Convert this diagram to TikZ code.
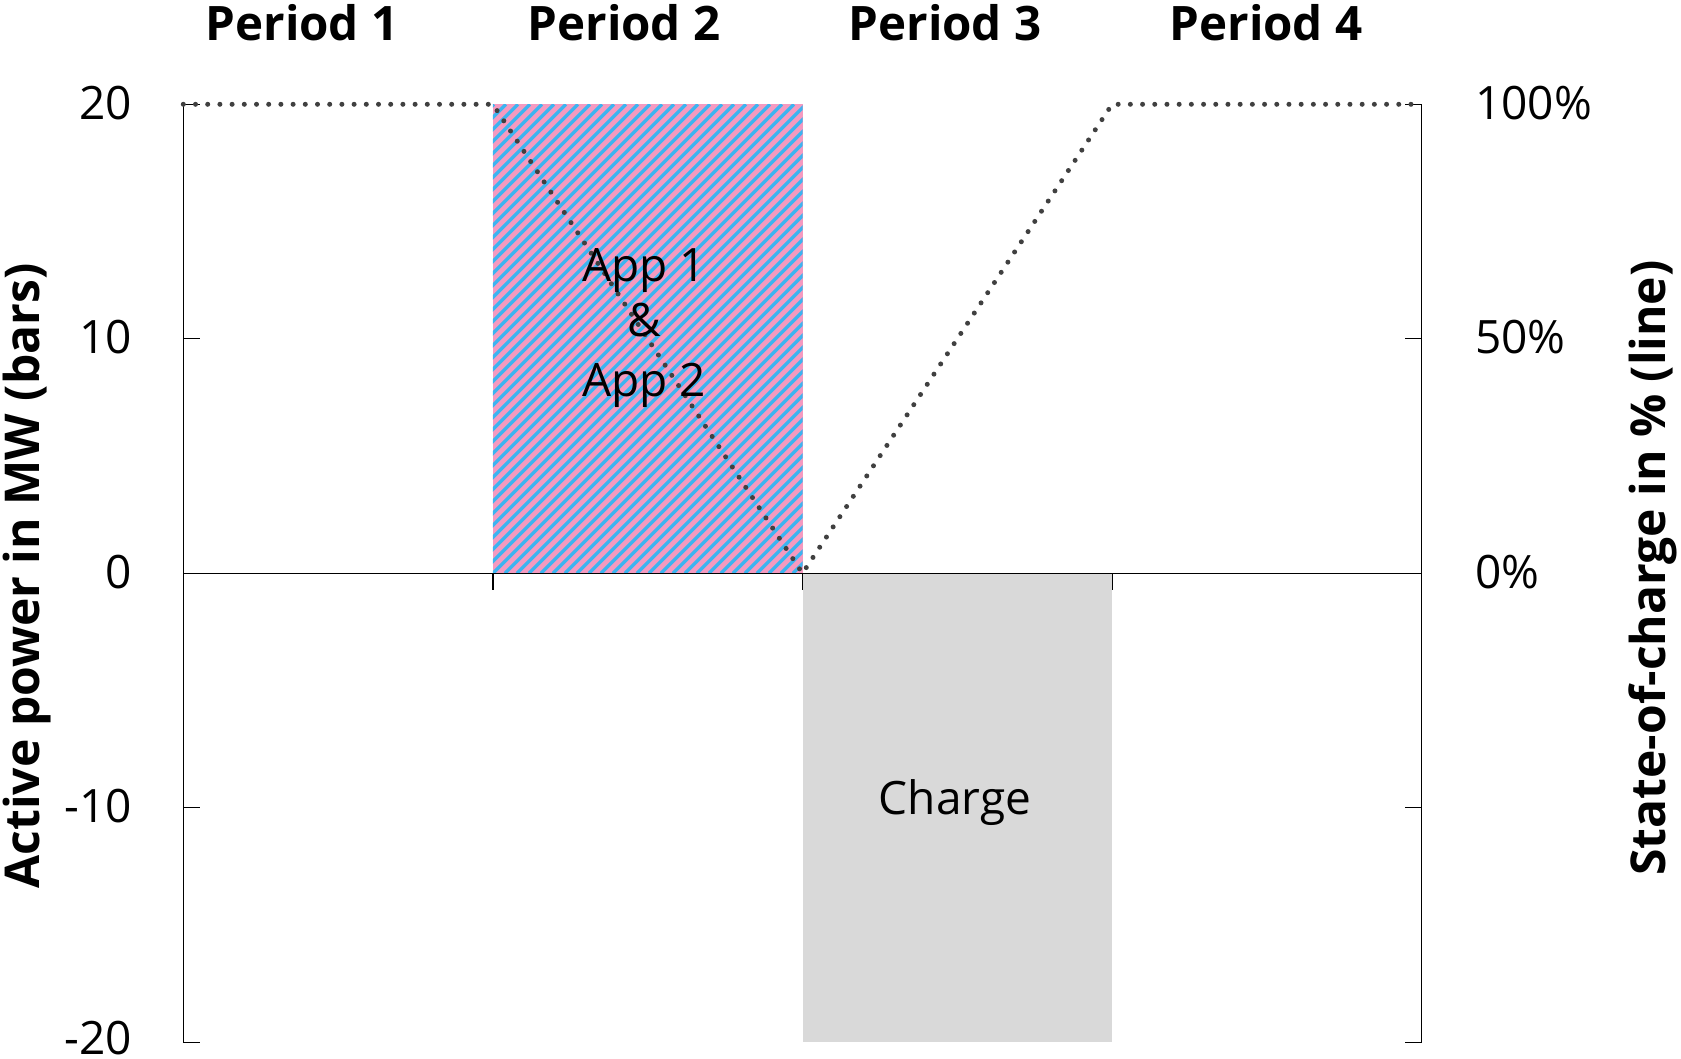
\documentclass[tikz,border=0pt]{standalone}
\usepackage{fontspec}
\setmainfont{Open Sans}
\definecolor{hpink}{HTML}{F59AC0}
\definecolor{hblue}{HTML}{3CB4F0}
\definecolor{chgray}{HTML}{D9D9D9}
\definecolor{socgray}{HTML}{404040}
\tikzset{
  axisline/.style={black,line width=1.4pt},
  tickline/.style={black,line width=1.2pt},
  soc/.style={socgray,line width=5pt,line cap=round,dash pattern=on 0pt off 12.2pt},
  ticklab/.style={font=\fontsize{46}{50}\selectfont,inner sep=0pt},
  perlab/.style={font=\fontsize{47.5}{50}\selectfont\bfseries,inner sep=0pt,anchor=base},
  axtitle/.style={font=\fontsize{48}{50}\selectfont\bfseries,inner sep=0pt,rotate=90},
  inlab/.style={font=\fontsize{46}{50}\selectfont,inner sep=0pt,anchor=base}
}
\begin{document}
\begin{tikzpicture}[x=1pt,y=1pt]
\useasboundingbox (0,0) rectangle (1681,-1059);
% key coordinates
\coordinate (x0) at (183.3,-573.3);
\coordinate (x1) at (492.9,-573.3);
\coordinate (x2) at (802.5,-573.3);
\coordinate (x3) at (1112.1,-573.3);
\coordinate (x4) at (1421.7,-573.3);
\coordinate (tl) at (183.3,-104.3);
\coordinate (bl) at (183.3,-1042.3);
\coordinate (tr) at (1421.7,-104.3);
\coordinate (br) at (1421.7,-1042.3);
\coordinate (p1top) at (492.9,-104.3);
\coordinate (p3top) at (1112.1,-104.3);
\coordinate (p3bot) at (1112.1,-1042.3);
% hatched bar
\fill[hpink] (x1) rectangle (802.5,-104.3);
\begin{scope}
\clip (x1) rectangle (802.5,-104.3);
\foreach \k in {-42,...,30} {
  \draw[hblue,line width=3.3pt] ({492.9+\k*12},-573.3) -- ++(469,469);
}
\end{scope}
% charge bar
\fill[chgray] (x2) rectangle (p3bot);
% axes
\draw[axisline] (tl) -- (bl);
\draw[axisline] (tr) -- (br);
\draw[axisline] (x0) -- (x4);
% ticks
\foreach \y in {-104.3,-338.8,-573.3,-807.8,-1042.3} {
  \draw[tickline] (183.3,\y) -- ++(17,0);
  \draw[tickline] (1421.7,\y) -- ++(-17,0);
}
\foreach \c in {x1,x2,x3} { \draw[tickline] (\c) -- ++(0,-17); }
% tick labels
\node[ticklab,anchor=base east] (l20) at (132,-119.3) {20};
\node[ticklab,anchor=base east] (l10) at (132,-353.8) {10};
\node[ticklab,anchor=base east] (l0) at (132,-588.3) {0};
\node[ticklab,anchor=base east] (lm10) at (132,-822.8) {-10};
\node[ticklab,anchor=base east] (lm20) at (132,-1054) {-20};
\node[ticklab,anchor=base west] (r100) at (1475,-119.3) {100\%};
\node[ticklab,anchor=base west] (r50) at (1475,-353.8) {50\%};
\node[ticklab,anchor=base west] (r0) at (1475,-588.3) {0\%};
% SOC line
\draw[soc] (tl) -- (p1top) -- (x2) -- (p3top) -- (tr);
% labels
\node[perlab] (per1) at (302,-41) {Period 1};
\node[perlab] (per2) at (624,-41) {Period 2};
\node[perlab] (per3) at (945,-41) {Period 3};
\node[perlab] (per4) at (1266,-41) {Period 4};
\node[inlab] (app1) at (644,-282) {App 1};
\node[inlab] (amp) at (644,-337) {\&};
\node[inlab] (app2) at (644,-396) {App 2};
\node[inlab] (chg) at (955,-814) {Charge};
\node[axtitle] (ytl) at (27,-576) {Active power in MW (bars)};
\node[axtitle] (ytr) at (1653,-568) {State-of-charge in \% (line)};
\end{tikzpicture}
\end{document}
